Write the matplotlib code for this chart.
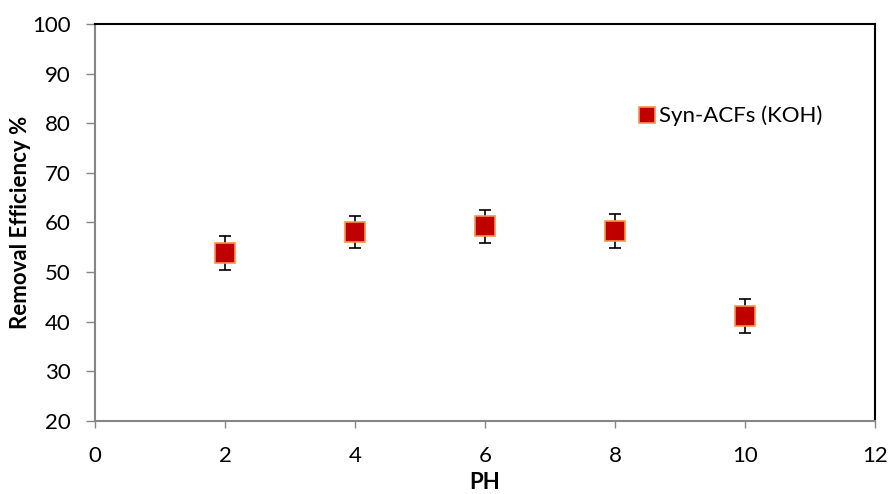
import numpy as np
import matplotlib
matplotlib.use('Agg')
import matplotlib.pyplot as plt

plt.rcParams['font.family'] = ['Lato', 'DejaVu Sans']

ph = [2, 4, 6, 8, 10]
removal = [53.9, 58.1, 59.2, 58.3, 41.1]
err = [3.4, 3.3, 3.3, 3.4, 3.4]

fig = plt.figure(figsize=(8.91, 4.94), dpi=100)
ax = fig.add_axes([0.1066, 0.1478, 0.8754, 0.8036])

ax.errorbar(ph, removal, yerr=err, fmt='none', ecolor='black', elinewidth=1.2,
            capsize=4.5, capthick=1.2, zorder=2)
ax.plot(ph, removal, 's', markersize=14, markerfacecolor='#C00000',
        markeredgecolor='#F79646', markeredgewidth=1.2, label='Syn-ACFs (KOH)', zorder=3)

ax.set_xlim(0, 12)
ax.set_ylim(20, 100)
ax.set_xticks(np.arange(0, 13, 2))
ax.set_yticks(np.arange(20, 101, 10))
ax.tick_params(axis='both', labelsize=16, width=1, color='#868686', direction='out')
ax.tick_params(axis='x', length=5, pad=13)
ax.tick_params(axis='y', length=6.5, pad=11)

for s in ['left', 'bottom']:
    ax.spines[s].set_color('#868686')
    ax.spines[s].set_linewidth(1.5)
for s in ['top', 'right']:
    ax.spines[s].set_color('black')
    ax.spines[s].set_linewidth(1.5)

ax.set_xlabel('PH', fontsize=16, fontweight='bold', labelpad=4)
ax.set_ylabel('Removal Efficiency %', fontsize=16, fontweight='bold', labelpad=1)

ax.legend(loc='center left', bbox_to_anchor=(0.682, 0.768), frameon=False, fontsize=16,
          handletextpad=0.05, markerscale=0.85, handlelength=1.0, borderaxespad=0)

fig.savefig('out.png', dpi=100)
